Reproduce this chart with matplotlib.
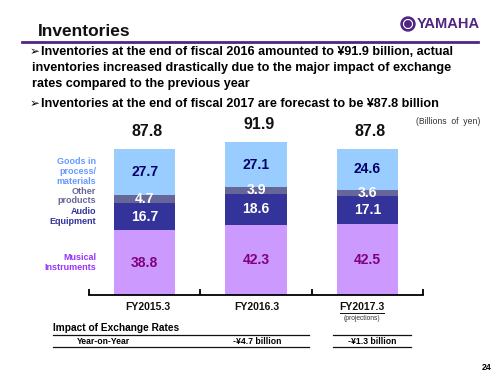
import matplotlib
matplotlib.use("Agg")
import matplotlib.pyplot as plt
import numpy as np
from matplotlib.patches import Circle

plt.rcParams['font.family'] = ['Liberation Sans', 'DejaVu Sans']

# data (billions of yen)
years = ["FY2015.3", "FY2016.3", "FY2017.3"]
musical = [38.8, 42.3, 42.5]
audio = [16.7, 18.6, 17.1]
other = [4.7, 3.9, 3.6]
goods = [27.7, 27.1, 24.6]
totals = [87.8, 91.9, 87.8]
fx_labels = ["Year-on-Year", "-¥4.7 billion", "-¥1.3 billion"]

seg_names = [["Musical", "Instruments"], ["Audio", "Equipment"], ["Other", "products"],
             ["Goods in", "process/", "materials"]]
seg_vals = [musical, audio, other, goods]
bar_cols = ["#CC99FF", "#333399", "#666699", "#99CCFF"]
val_cols = ["#800080", "white", "white", "#000066"]
name_cols = ["#9933FF", "#333399", "#666699", "#6699FF"]

PURPLE = "#4F2683"

fig = plt.figure(figsize=(5, 3.75), dpi=100)

# overlay in pixel coords for the slide text
ov = fig.add_axes([0, 0, 1, 1])
ov.set_xlim(0, 500)
ov.set_ylim(375, 0)
ov.axis("off")

ov.text(38, 32, "Inventories", fontsize=12.5, fontweight="bold", color="#111111", va="center")
ov.plot([22, 478], [42, 42], color=PURPLE, lw=2)

# logo
ov.add_patch(Circle((408, 24), 7, color=PURPLE))
ov.add_patch(Circle((408, 24), 4.5, fill=False, ec="white", lw=0.8))
ov.text(417, 24.5, "YAMAHA", fontsize=10.5, fontweight="bold", color=PURPLE, va="center",
        family=["Liberation Sans Narrow", "Liberation Sans"])

bfs = 9.1
ov.text(30, 52, "➢", fontsize=8.5, va="center", family=["DejaVu Sans"], fontweight="bold")
ov.text(41, 52, "Inventories at the end of fiscal 2016 amounted to ¥91.9 billion, actual",
        fontsize=bfs, fontweight="bold", va="center")
ov.text(32, 68, "inventories increased drastically due to the major impact of exchange",
        fontsize=bfs, fontweight="bold", va="center")
ov.text(32, 84, "rates compared to the previous year", fontsize=bfs, fontweight="bold", va="center")
ov.text(30, 104, "➢", fontsize=8.5, va="center", family=["DejaVu Sans"], fontweight="bold")
ov.text(41, 104, "Inventories at the end of fiscal 2017 are forecast to be ¥87.8 billion",
        fontsize=bfs, fontweight="bold", va="center")
ov.text(448, 122, "(Billions  of  yen)", fontsize=6.2, ha="center", va="center", color="#333333")

# chart axes: x -0.5..2.5 -> px 89..423, y 0 at px 295, 1.663 px per unit
ymax = 100
ax = fig.add_axes([89 / 500, 80 / 375, 334 / 500, ymax * 1.663 / 375])
ax.set_xlim(-0.5, 2.5)
ax.set_ylim(0, ymax)
x = np.arange(len(years))
bottom = np.zeros(len(years))
for vals, bc, vc in zip(seg_vals, bar_cols, val_cols):
    ax.bar(x, vals, bottom=bottom, width=0.55, color=bc, linewidth=0)
    for xi, b, v in zip(x, bottom, vals):
        ax.text(xi, b + v / 2, f"{v}", ha="center", va="center", fontsize=10,
                fontweight="bold", color=vc)
    bottom += vals
for xi, t in zip(x, totals):
    ax.annotate(f"{t}", (xi, t), xytext=(2, 12.5), textcoords="offset points",
                ha="center", va="center", fontsize=11.5, fontweight="bold", color="#111111")

for s in ["top", "left", "right"]:
    ax.spines[s].set_visible(False)
ax.spines["bottom"].set_linewidth(1.3)
ax.set_yticks([])
ax.set_xticks([-0.5, 0.5, 1.5, 2.5])
ax.set_xticklabels([])
ax.tick_params(axis="x", direction="in", length=4, width=1.3)
ax.patch.set_alpha(0)

# segment names at left of first bar, one text per line
name_y = [[258, 267], [211, 221], [192, 200.5], [161, 171, 181]]
for lines, c, ys in zip(seg_names, name_cols, name_y):
    for ln, yy in zip(lines, ys):
        ov.text(96, yy, ln, ha="right", va="center", fontsize=6.5, fontweight="bold", color=c)

# category labels
lab_x = [148, 257, 362]
for lx, yr in zip(lab_x, years):
    ov.text(lx, 307.5, yr, ha="center", va="center", fontsize=7.5, fontweight="bold", color="#111111")
ov.plot([340, 384], [312.5, 312.5], color="#111111", lw=0.7)
ov.text(362, 318.5, "(projections)", ha="center", va="center", fontsize=4.8, color="#333333")

# exchange rate table
ov.text(53, 328, "Impact of Exchange Rates", ha="left", va="center", fontsize=7.3, fontweight="bold")
for ly in [334.5, 346.5]:
    ov.plot([53, 309], [ly, ly], color="#111111", lw=0.9)
    ov.plot([333, 411], [ly, ly], color="#111111", lw=0.9)
for lx, t in zip([103, 257, 372], fx_labels):
    ov.text(lx, 341, t, ha="center", va="center", fontsize=6.2, fontweight="bold")

ov.text(492, 368, "24", ha="right", va="center", fontsize=6.3, fontweight="bold")

fig.savefig("out.png", dpi=100)
